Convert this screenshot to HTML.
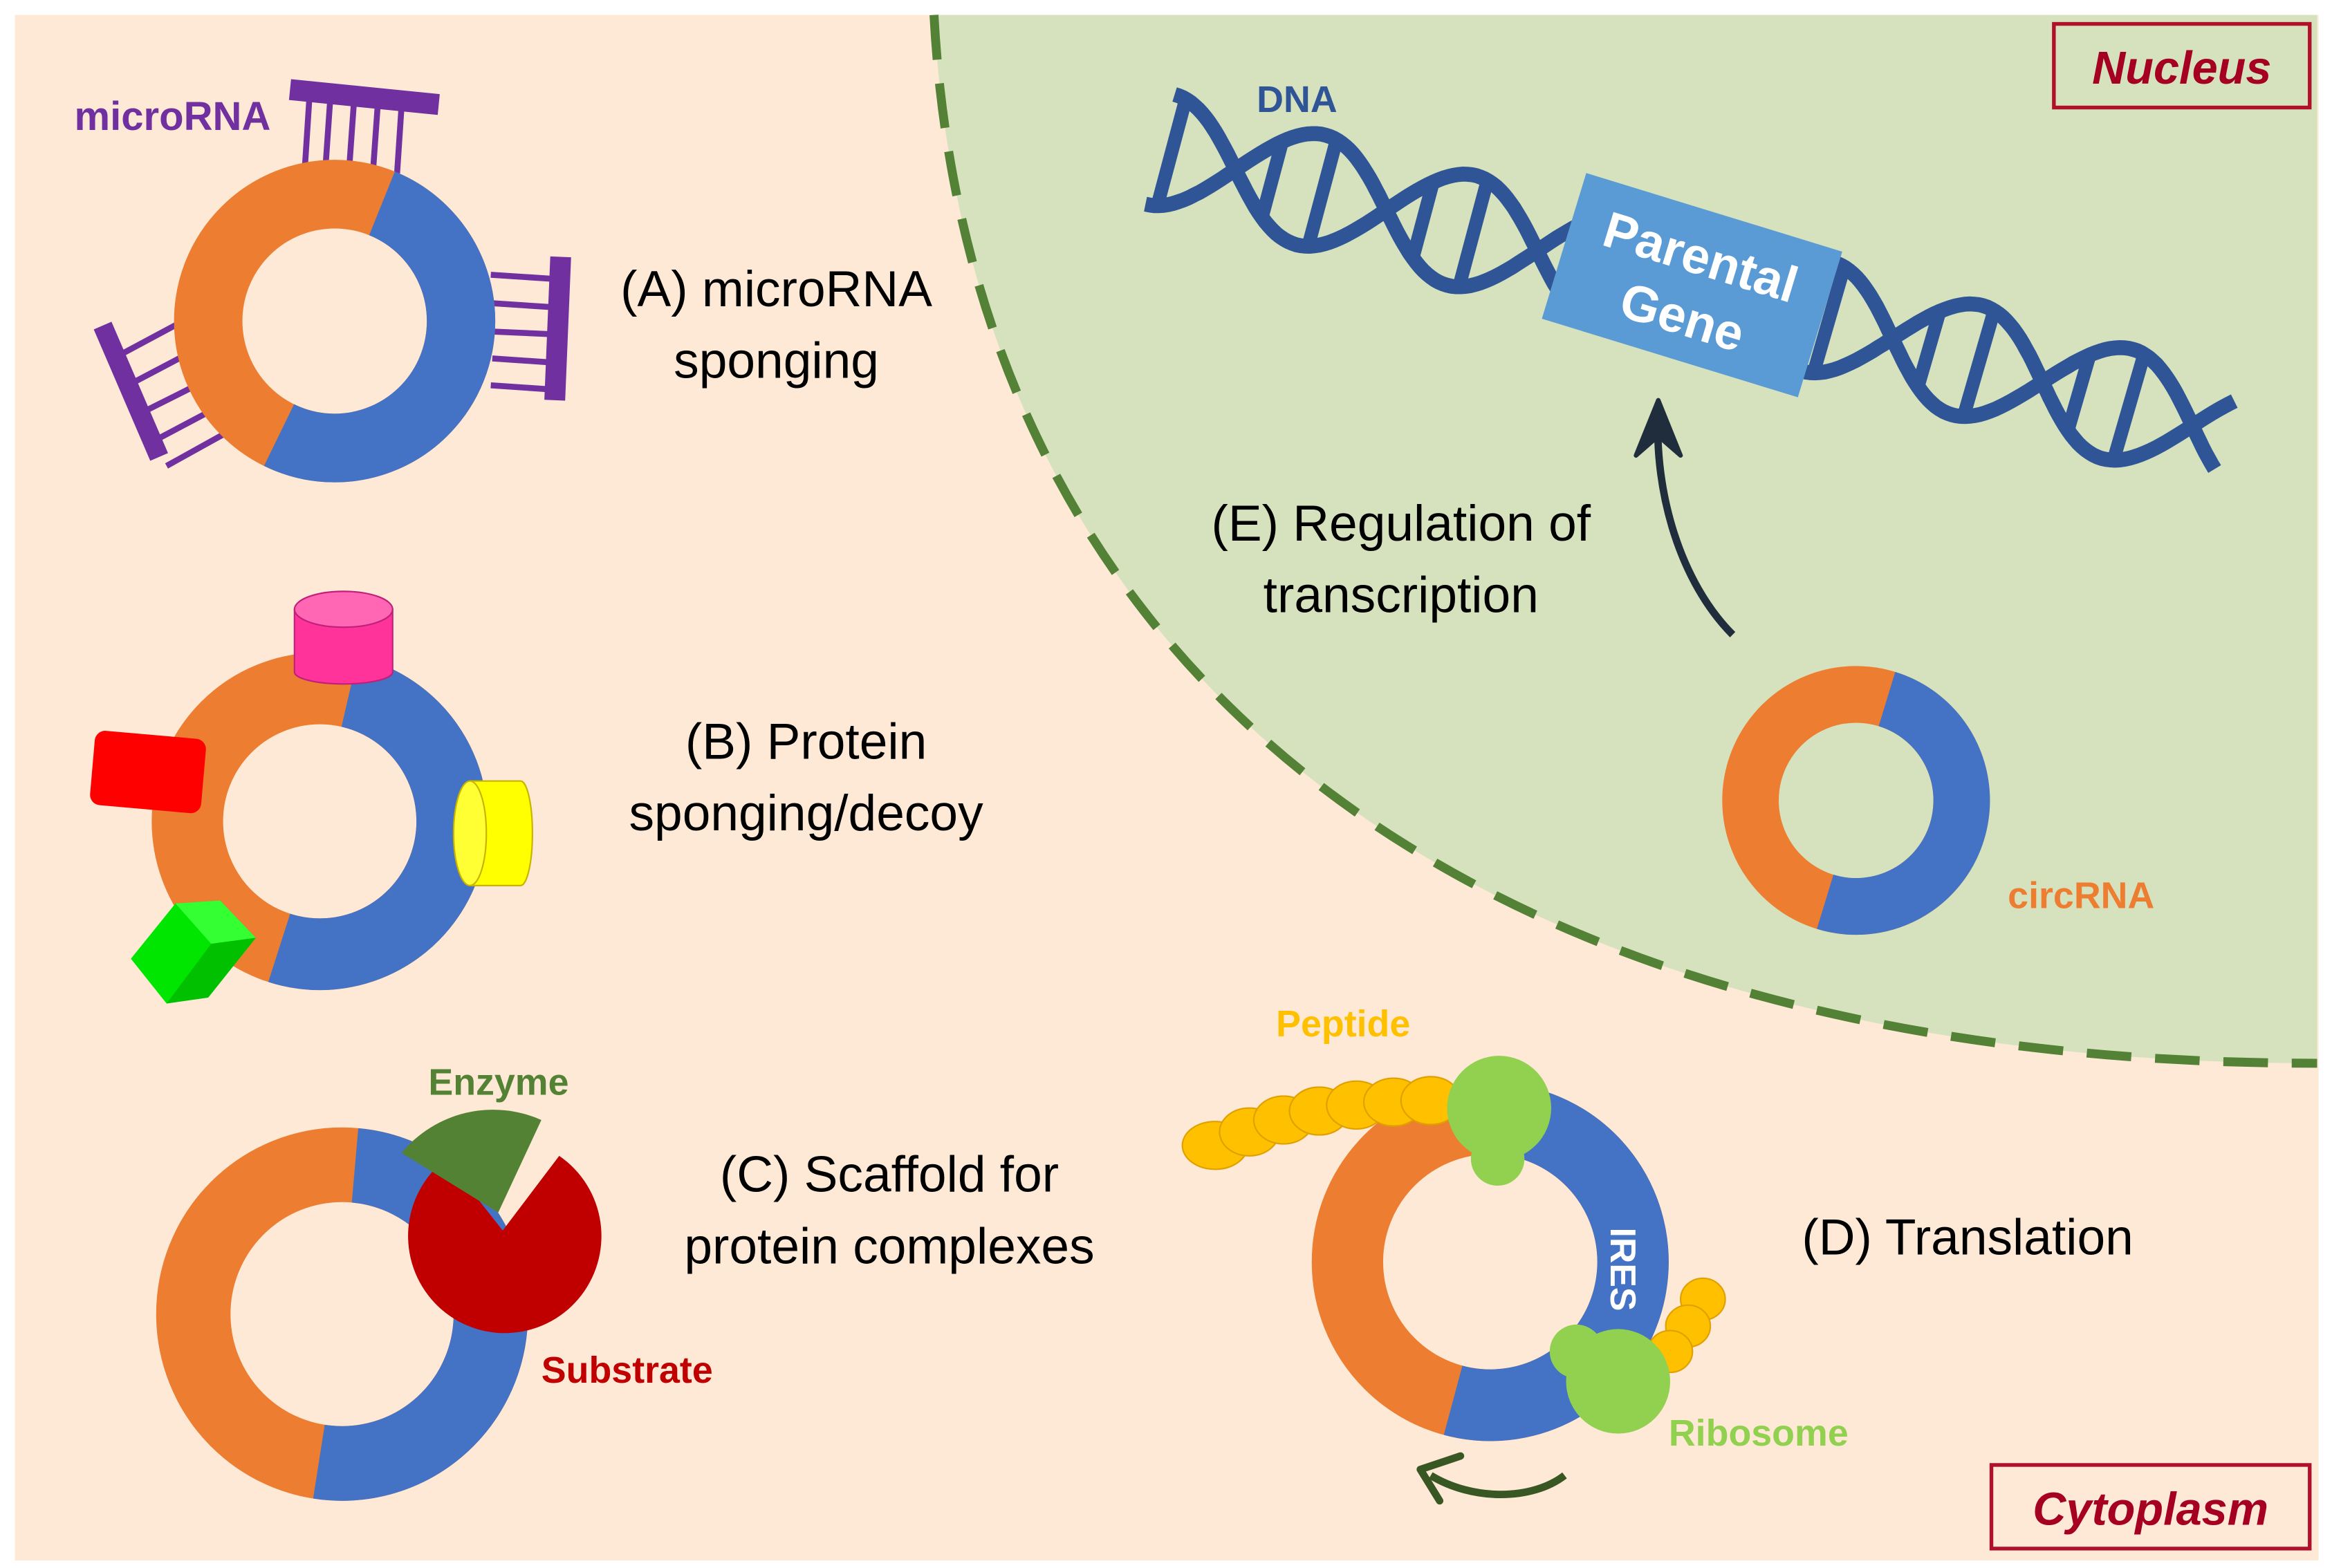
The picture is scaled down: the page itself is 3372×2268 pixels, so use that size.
<!DOCTYPE html>
<html><head><meta charset="utf-8"><style>
html,body{margin:0;padding:0;background:#fff}
svg{display:block}
text{font-family:"Liberation Sans",sans-serif}
</style></head><body>
<svg id="s" width="3372" height="2268" viewBox="0 0 1568 1050" preserveAspectRatio="none" xmlns="http://www.w3.org/2000/svg">
<rect x="0" y="0" width="1568" height="1050" fill="#fff"/>
<rect x="10" y="10" width="1549" height="1035" fill="#fde9d6"/>
<path d="M628,10 C650,420 950,712 1558,712 L1558,10 Z" fill="#d5e2bd" stroke="none"/>
<path d="M628,10 C650,420 950,712 1558,712" fill="none" stroke="#538135" stroke-width="6" stroke-dasharray="30,16"/>

<rect x="1381" y="16" width="172" height="56" fill="#d5e2bd" stroke="#b0102a" stroke-width="2.5"/>
<text x="1467" y="56" font-size="31" font-weight="bold" font-style="italic" fill="#a50021" text-anchor="middle">Nucleus</text>
<rect x="1339" y="981" width="214" height="56" fill="#fde9d6" stroke="#b0102a" stroke-width="2.5"/>
<text x="1446" y="1021" font-size="31" font-weight="bold" font-style="italic" fill="#a50021" text-anchor="middle">Cytoplasm</text>

<g id="dna"></g>
<g transform="rotate(17 1138 190)">
<rect x="1048" y="140" width="180" height="102" fill="#5b9bd5"/>
<text x="1138" y="183" font-size="34" font-weight="bold" fill="#fff" text-anchor="middle">Parental</text>
<text x="1138" y="225" font-size="34" font-weight="bold" fill="#fff" text-anchor="middle">Gene</text>
</g>
<text x="845" y="75" font-size="25" font-weight="bold" fill="#2f5597">DNA</text>

<g stroke="#7030a0" fill="none">
<line x1="195" y1="60" x2="295" y2="70" stroke-width="14"/>
<g stroke-width="4"><line x1="208" y1="66" x2="205" y2="112"/><line x1="222" y1="67" x2="219" y2="110"/><line x1="238" y1="68" x2="235" y2="110"/><line x1="254" y1="70" x2="251" y2="112"/><line x1="270" y1="71" x2="267" y2="116"/></g>
<line x1="377" y1="172" x2="373" y2="268" stroke-width="14"/>
<g stroke-width="4"><line x1="330" y1="184" x2="376" y2="187"/><line x1="330" y1="203" x2="376" y2="206"/><line x1="331" y1="222" x2="375" y2="224"/><line x1="331" y1="240" x2="375" y2="243"/><line x1="330" y1="258" x2="374" y2="261"/></g>
<line x1="69" y1="218" x2="107" y2="306" stroke-width="13"/>
<g stroke-width="4"><line x1="80" y1="238" x2="125" y2="214"/><line x1="88" y1="257" x2="128" y2="236"/><line x1="96" y1="276" x2="132" y2="258"/><line x1="104" y1="295" x2="140" y2="276"/><line x1="112" y1="312" x2="150" y2="291"/></g>
</g>
<text x="50" y="87" font-size="27" font-weight="bold" fill="#7030a0">microRNA</text>

<g fill="none">
<circle cx="225" cy="215" r="85" stroke="#ed7d31" stroke-width="46"/>
<circle cx="225" cy="215" r="85" stroke="#4472c4" stroke-width="46" stroke-dasharray="273 1000" transform="rotate(-68 225 215)"/>
<circle cx="215" cy="550" r="89" stroke="#ed7d31" stroke-width="48"/>
<circle cx="215" cy="550" r="89" stroke="#4472c4" stroke-width="48" stroke-dasharray="287 1000" transform="rotate(-77 215 550)"/>
<circle cx="230" cy="880" r="100" stroke="#ed7d31" stroke-width="50"/>
<circle cx="230" cy="880" r="100" stroke="#4472c4" stroke-width="50" stroke-dasharray="321 1000" transform="rotate(-85 230 880)"/>
<circle cx="1002" cy="845" r="96" stroke="#ed7d31" stroke-width="48"/>
<circle cx="1002" cy="845" r="96" stroke="#4472c4" stroke-width="48" stroke-dasharray="310 1000" transform="rotate(-80 1002 845)"/>
<circle cx="1248" cy="536" r="71" stroke="#ed7d31" stroke-width="38"/>
<circle cx="1248" cy="536" r="71" stroke="#4472c4" stroke-width="38" stroke-dasharray="223 1000" transform="rotate(-73 1248 536)"/>
</g>

<path d="M198,408 L198,450 A33,8 0 0 0 264,450 L264,408 Z" fill="#ff3399" stroke="#c0207a" stroke-width="1"/>
<ellipse cx="231" cy="408" rx="33" ry="12" fill="#ff66b3" stroke="#c0207a" stroke-width="1"/>
<rect x="62" y="492" width="75" height="50" rx="7" fill="#ff0000" transform="rotate(5 100 517)"/>
<path d="M316,523 L350,523 A8,35 0 0 1 350,593 L316,593 Z" fill="#ffff00" stroke="#c8b400" stroke-width="1"/>
<ellipse cx="316" cy="558" rx="11" ry="35" fill="#ffff33" stroke="#c8b400" stroke-width="1"/>
<polygon points="88,642 118,605 148,603 172,628 140,668 112,672" fill="#00e600"/>
<polygon points="118,605 148,603 172,628 142,632" fill="#33ff33"/>
<polygon points="142,632 172,628 140,668 112,672" fill="#00c000"/>

<path d="M338,824 L376,774 A65,65 0 1 1 300,776 Z" fill="#c00000"/>
<path d="M335,812 L270,772 A80,80 0 0 1 364,750 Z" fill="#548235"/>
<text x="288" y="733" font-size="25" font-weight="bold" fill="#548235">Enzyme</text>
<text x="364" y="926" font-size="25" font-weight="bold" fill="#c00000">Substrate</text>

<g fill="#ffc000" stroke="#e0a000" stroke-width="1">
<ellipse cx="817" cy="767" rx="22" ry="16"/><ellipse cx="840" cy="758" rx="20" ry="16"/><ellipse cx="863" cy="750" rx="20" ry="16"/><ellipse cx="887" cy="744" rx="20" ry="16"/><ellipse cx="912" cy="740" rx="20" ry="16"/><ellipse cx="937" cy="738" rx="20" ry="16"/><ellipse cx="962" cy="737" rx="20" ry="16"/>
<ellipse cx="1145" cy="870" rx="15" ry="14"/><ellipse cx="1135" cy="888" rx="15" ry="14"/><ellipse cx="1123" cy="905" rx="15" ry="14"/>
</g>
<g fill="#92d050">
<circle cx="1008" cy="742" r="35"/><circle cx="1007" cy="776" r="18"/>
<circle cx="1088" cy="925" r="35"/><circle cx="1060" cy="905" r="18"/>
</g>
<text transform="translate(1083 822) rotate(90)" font-size="24" font-weight="bold" fill="#fff">IRES</text>
<text x="858" y="694" font-size="25" font-weight="bold" fill="#ffc000">Peptide</text>
<text x="1122" y="968" font-size="25" font-weight="bold" fill="#92d050">Ribosome</text>
<text x="1350" y="608" font-size="25" font-weight="bold" fill="#ed7d31">circRNA</text>
<path d="M1052,988 C1030,1005 990,1005 962,988" fill="none" stroke="#385723" stroke-width="5"/>
<path d="M955,984 L982,975 M955,984 L968,1005" stroke="#385723" stroke-width="5" fill="none" stroke-linecap="round"/>

<path d="M1165,425 C1130,390 1112,330 1115,275" fill="none" stroke="#1f2d3d" stroke-width="5"/>
<path d="M1115,268 L1100,305 L1115,292 L1130,305 Z" fill="#1f2d3d" stroke="#1f2d3d" stroke-width="3" stroke-linejoin="round"/>

<g font-size="34" fill="#000">
<text x="522" y="205" text-anchor="middle">(A) microRNA</text>
<text x="522" y="253" text-anchor="middle">sponging</text>
<text x="542" y="508" text-anchor="middle">(B) Protein</text>
<text x="542" y="556" text-anchor="middle">sponging/decoy</text>
<text x="598" y="798" text-anchor="middle">(C) Scaffold for</text>
<text x="598" y="846" text-anchor="middle">protein complexes</text>
<text x="1323" y="840" text-anchor="middle">(D) Translation</text>
<text x="942" y="362" text-anchor="middle">(E) Regulation of</text>
<text x="942" y="410" text-anchor="middle">transcription</text>
</g>
</svg>
<script>
(function(){
var g=document.getElementById('dna'),NS='http://www.w3.org/2000/svg';
function helix(x0,y0,x1,y1,lam,A,ph){
 var dx=x1-x0,dy=y1-y0,L=Math.hypot(dx,dy),ux=dx/L,uy=dy/L,nx=-uy,ny=ux;
 [0,Math.PI].forEach(function(o){
  var d='';for(var s=0;s<=L;s+=3){var a=A*Math.sin(2*Math.PI*s/lam+ph+o);d+=(s?'L':'M')+(x0+ux*s+nx*a).toFixed(1)+','+(y0+uy*s+ny*a).toFixed(1);}
  var p=document.createElementNS(NS,'path');p.setAttribute('d',d);p.setAttribute('fill','none');p.setAttribute('stroke','#2f5597');p.setAttribute('stroke-width','10');g.appendChild(p);
 });
 for(var s=8;s<=L;s+=lam/6){var a=A*Math.sin(2*Math.PI*s/lam+ph);if(Math.abs(a)<A*0.45)continue;
  var l=document.createElementNS(NS,'line');
  l.setAttribute('x1',x0+ux*s+nx*a);l.setAttribute('y1',y0+uy*s+ny*a);l.setAttribute('x2',x0+ux*s-nx*a);l.setAttribute('y2',y0+uy*s-ny*a);
  l.setAttribute('stroke','#2f5597');l.setAttribute('stroke-width','9');g.appendChild(l);}
}
helix(780,100,1060,175,210,38,Math.PI/2);
helix(1222,212,1498,292,210,38,Math.PI/2);
})();
</script>
</body></html>
